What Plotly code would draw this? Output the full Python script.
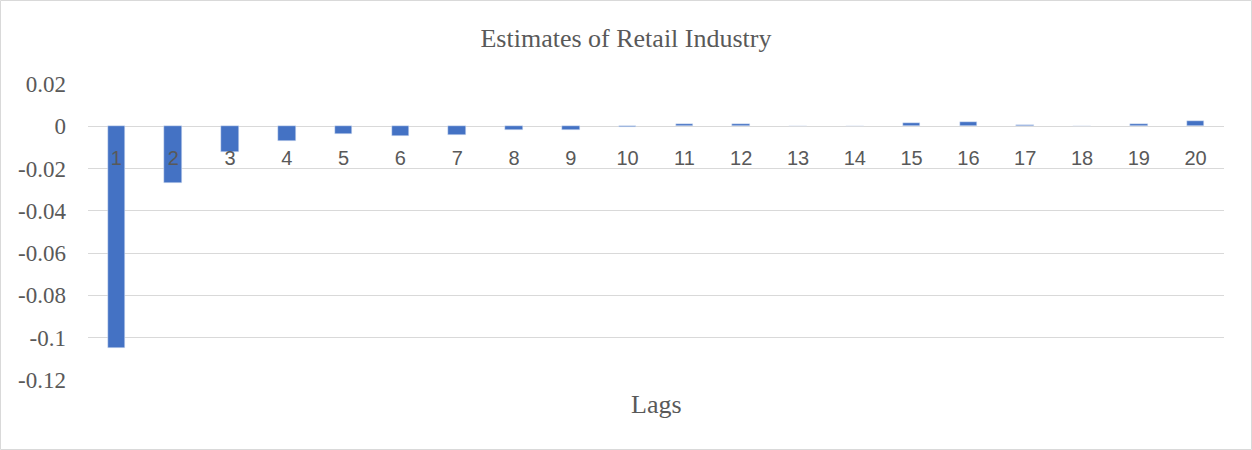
import plotly.graph_objects as go

lags = [str(i) for i in range(1, 21)]
estimates = [-0.105, -0.027, -0.0123, -0.0071, -0.0035, -0.0047, -0.0040, -0.0019,
             -0.0017, -0.0003, 0.0011, 0.0010, 0.0002, 0.0, 0.0014, 0.0019,
             0.0006, 0.0, 0.0009, 0.0027]
y_ticks = [0.02, 0, -0.02, -0.04, -0.06, -0.08, -0.1, -0.12]
y_tick_text = ["0.02", "0", "-0.02", "-0.04", "-0.06", "-0.08", "-0.1", "-0.12"]

W, H = 1252, 450
L, R, T, B = 88, 28, 84, 70
pw, ph = W - L - R, H - T - B

def px_x(p):
    return (p - L) / pw

def px_y(p):
    return (H - B - p) / ph

fig = go.Figure()
fig.add_trace(go.Bar(x=lags, y=estimates, marker_color="#4472C4", width=0.31))

ymin, ymax = -0.12, 0.02
zero_pos = (0 - ymin) / (ymax - ymin)

fig.update_layout(
    width=W, height=H,
    margin=dict(l=L, r=R, t=T, b=B),
    paper_bgcolor="white", plot_bgcolor="white",
    showlegend=False,
    bargap=0,
    title=dict(text="Estimates of Retail Industry", x=0.5, xanchor="center",
               y=1 - 38 / H, yanchor="middle",
               font=dict(family="Liberation Serif", size=26, color="#595959")),
    xaxis=dict(type="category", anchor="free", position=zero_pos,
               showgrid=False, showline=False, zeroline=False,
               ticks="", ticklabelstandoff=18,
               tickfont=dict(family="Liberation Sans", size=20, color="#595959")),
    yaxis=dict(range=[ymin, ymax], tickvals=y_ticks, ticktext=y_tick_text,
               showgrid=True, gridcolor="#D9D9D9", gridwidth=1,
               zeroline=True, zerolinecolor="#D9D9D9", zerolinewidth=1,
               showline=False, ticks="", ticklabelstandoff=21,
               tickfont=dict(family="Liberation Serif", size=23, color="#595959")),
    annotations=[dict(text="Lags", x=0.5, xref="paper", y=px_y(404), yref="paper",
                      xanchor="center", yanchor="middle", showarrow=False,
                      font=dict(family="Liberation Serif", size=26, color="#595959"))],
    shapes=[dict(type="rect", xref="paper", yref="paper",
                 x0=px_x(0.5), x1=px_x(W - 0.5), y0=px_y(H - 0.5), y1=px_y(0.5),
                 line=dict(color="#D9D9D9", width=1), fillcolor="rgba(0,0,0,0)",
                 layer="below")],
)

fig.write_html("out.html")
